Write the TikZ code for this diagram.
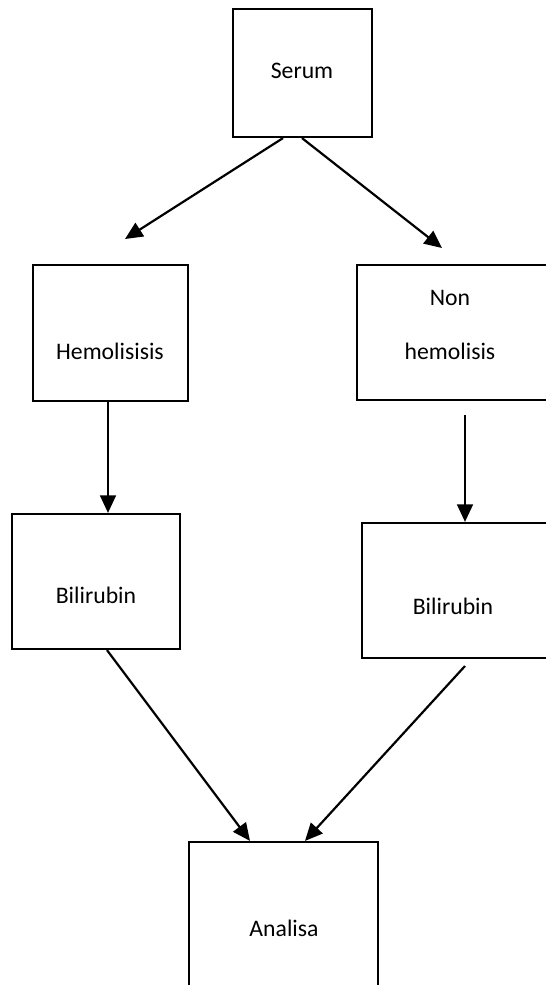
\documentclass[tikz,border=0pt]{standalone}
\usepackage{fontspec}
\setmainfont{Carlito}
\usetikzlibrary{arrows.meta}

\tikzstyle{box}=[draw, line width=1.25pt, inner sep=0pt]
\tikzstyle{txt}=[inner sep=0pt, font=\fontsize{13.5}{16}\selectfont]
\tikzstyle{link}=[line width=1.25pt, -{Triangle[length=10pt,width=9pt]}]

\begin{document}
\begin{tikzpicture}[x=0.02cm, y=-0.02cm]
    \clip (0,0) rectangle (546,985);
    \fill[white] (0,0) rectangle (546,985);
    % boxes
    \node (serum) [box, minimum width=2.78cm, minimum height=2.56cm] at (302.5,73) {};
    \node (hemo) [box, minimum width=3.10cm, minimum height=2.72cm] at (110.5,333) {};
    \node (nonhemo) [box, minimum width=4.06cm, minimum height=2.70cm] at (458.5,332.5) {};
    \node (bilL) [box, minimum width=3.36cm, minimum height=2.70cm] at (96,581.5) {};
    \node (bilR) [box, minimum width=4.06cm, minimum height=2.70cm] at (463.5,590.5) {};
    \node (analisa) [box, minimum width=3.78cm, minimum height=3.16cm] at (283.5,921) {};
    % texts
    \node (tserum) [txt] at (302,71) {Serum};
    \node (themo) [txt] at (110,351) {Hemolisisis};
    \node (tnonhemo) [txt, align=center] at (450,325) {Non\\[15pt]hemolisis};
    \node (tbilL) [txt] at (96,595) {Bilirubin};
    \node (tbilR) [txt] at (453,606) {Bilirubin};
    \node (tanalisa) [txt] at (284,928) {Analisa};
    % free ends
    \coordinate (e1) at (125,239);
    \coordinate (e2) at (442,248);
    \coordinate (s4) at (465,415);
    \coordinate (s6) at (465,666);
    % arrows
    \draw [link] (serum.south -| 283,0) -- (e1);
    \draw [link] (serum.south -| 302,0) -- (e2);
    \draw [link] (hemo.south -| 108,0) -- (bilL.north -| 108,0);
    \draw [link] (s4) -- (bilR.north -| 465,0);
    \draw [link] (bilL.south -| 107,0) -- (analisa.north -| 250,0);
    \draw [link] (s6) -- (analisa.north -| 305,0);
\end{tikzpicture}
\end{document}
